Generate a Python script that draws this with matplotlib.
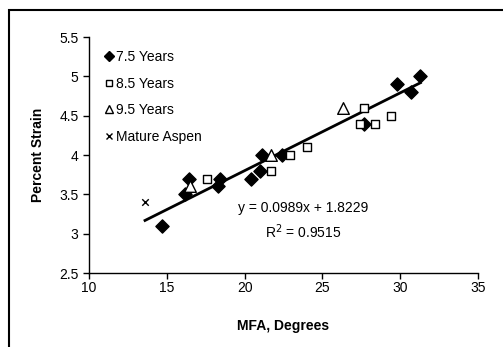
import numpy as np
import matplotlib
matplotlib.use("Agg")
from matplotlib import pyplot as plt
from matplotlib.patches import Rectangle
from matplotlib.lines import Line2D

plt.rcParams['font.family'] = ['Liberation Sans', 'DejaVu Sans']

# data
x75 = [14.7, 16.2, 16.4, 18.3, 18.4, 20.4, 21.0, 21.1, 22.4, 27.7, 29.8, 30.7, 31.3]
y75 = [3.1, 3.5, 3.7, 3.6, 3.7, 3.7, 3.8, 4.0, 4.0, 4.4, 4.9, 4.8, 5.0]
x85 = [17.6, 21.7, 22.9, 24.0, 27.4, 27.7, 28.4, 29.4]
y85 = [3.7, 3.8, 4.0, 4.1, 4.4, 4.6, 4.4, 4.5]
x95 = [16.5, 21.7, 26.3]
y95 = [3.6, 4.0, 4.6]
xma = [13.6]
yma = [3.4]
slope, inter = 0.0989, 1.8229
r2 = 0.9515
xticks = [10, 15, 20, 25, 30, 35]
yticks = [2.5, 3, 3.5, 4, 4.5, 5, 5.5]

fig = plt.figure(figsize=(5.03, 3.47), dpi=100)
ax = fig.add_axes([89/503, 1-273/347, (478-89)/503, (273-37)/347])

# cadre autour du graphique (coupe a droite et en bas)
fig.patches.append(Rectangle((9/503, -0.2), 1.2, 1 - 10/347 + 0.2,
                             transform=fig.transFigure, fill=False,
                             edgecolor='black', linewidth=1.5))

allx = np.array(x75 + x85 + x95 + xma)
xl = np.array([allx.min(), allx.max()])
ax.plot(xl, slope*xl + inter, color='black', lw=2, zorder=1)

ax.scatter(x75, y75, marker='D', s=45, c='black', zorder=3)
ax.scatter(x85, y85, marker='s', s=30, facecolors='white',
           edgecolors='black', linewidths=1, zorder=3)
ax.scatter(x95, y95, marker='^', s=70, facecolors='white',
           edgecolors='black', linewidths=1, zorder=3)
ax.scatter(xma, yma, marker='x', s=22, c='black', linewidths=1, zorder=3)

ax.set_xlim(10, 35)
ax.set_ylim(2.5, 5.5)
ax.set_xticks(xticks)
ax.set_yticks(yticks)
ax.set_xticklabels([str(v) for v in xticks])
ax.set_yticklabels(['%g' % v for v in yticks])
ax.tick_params(direction='out', length=4, width=1, labelsize=10, colors='black')
ax.tick_params(axis='x', pad=2)
for s in ['top', 'right']:
    ax.spines[s].set_visible(False)
for s in ['left', 'bottom']:
    ax.spines[s].set_linewidth(1)

ax.set_xlabel('MFA, Degrees', fontweight='bold', fontsize=10, labelpad=17)
ax.set_ylabel('Percent Strain', fontweight='bold', fontsize=10, labelpad=10)

ax.text(303/503, 1-208/347, 'y = 0.0989x + 1.8229', transform=fig.transFigure,
        ha='center', va='center', fontsize=10)
ax.text(303/503, 1-232/347, 'R$^2$ = %.4f' % r2, transform=fig.transFigure,
        ha='center', va='center', fontsize=10)

handles = [
    Line2D([], [], ls='none', marker='D', ms=5, color='black'),
    Line2D([], [], ls='none', marker='s', ms=5, mfc='white', mec='black'),
    Line2D([], [], ls='none', marker='^', ms=6, mfc='white', mec='black'),
    Line2D([], [], ls='none', marker='x', ms=5, color='black'),
]
labels = ['7.5 Years', '8.5 Years', '9.5 Years', 'Mature Aspen']
ax.legend(handles, labels, loc='upper left', bbox_to_anchor=(0.015, 0.985),
          frameon=False, fontsize=10, handlelength=0.6, handletextpad=0.25,
          labelspacing=0.9, borderaxespad=0.3)

fig.savefig('out.png', dpi=100)
